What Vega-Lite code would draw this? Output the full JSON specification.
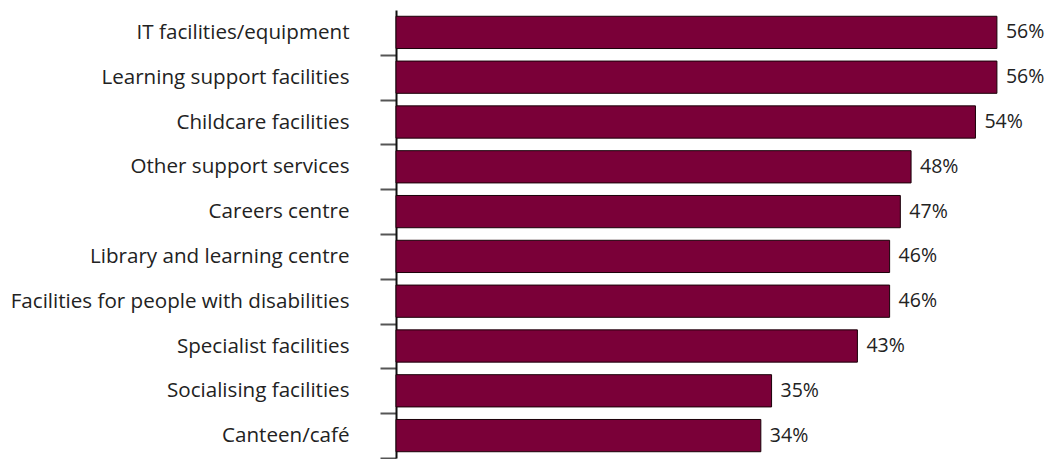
{
  "$schema": "https://vega.github.io/schema/vega-lite/v6.json",
  "width": 655,
  "height": 448,
  "autosize": {"type": "none"},
  "padding": {"left": 396, "top": 10, "right": 0, "bottom": 1},
  "background": "white",
  "data": {
    "values": [
      {"category": "IT facilities/equipment", "value": 0.56},
      {"category": "Learning support facilities", "value": 0.56},
      {"category": "Childcare facilities", "value": 0.54},
      {"category": "Other support services", "value": 0.48},
      {"category": "Careers centre", "value": 0.47},
      {"category": "Library and learning centre", "value": 0.46},
      {"category": "Facilities for people with disabilities", "value": 0.46},
      {"category": "Specialist facilities", "value": 0.43},
      {"category": "Socialising facilities", "value": 0.35},
      {"category": "Canteen/café", "value": 0.34}
    ]
  },
  "encoding": {
    "y": {
      "field": "category",
      "type": "nominal",
      "sort": null,
      "scale": {"paddingInner": 0, "paddingOuter": 0},
      "axis": {
        "title": null,
        "domainColor": "#111",
        "domainWidth": 2,
        "tickBand": "extent",
        "tickSize": 16,
        "tickWidth": 2,
        "tickColor": "#555",
        "tickOpacity": {"condition": {"test": "datum.extra", "value": 0}, "value": 1},
        "labelPadding": 31,
        "labelFont": "Open Sans",
        "labelFontSize": 20.6,
        "labelColor": "#222",
        "labelLimit": 500
      }
    },
    "x": {
      "field": "value",
      "type": "quantitative",
      "scale": {"domain": [0, 0.6104], "nice": false},
      "axis": null
    }
  },
  "layer": [
    {
      "mark": {"type": "bar", "color": "#7a0038", "stroke": "#1a0008", "strokeWidth": 1, "height": {"band": 0.72}}
    },
    {
      "mark": {"type": "text", "align": "left", "dx": 9, "font": "Open Sans", "fontSize": 19.5, "color": "#222"},
      "encoding": {"text": {"field": "value", "type": "quantitative", "format": ".0%"}}
    }
  ],
  "config": {"view": {"stroke": null}}
}
